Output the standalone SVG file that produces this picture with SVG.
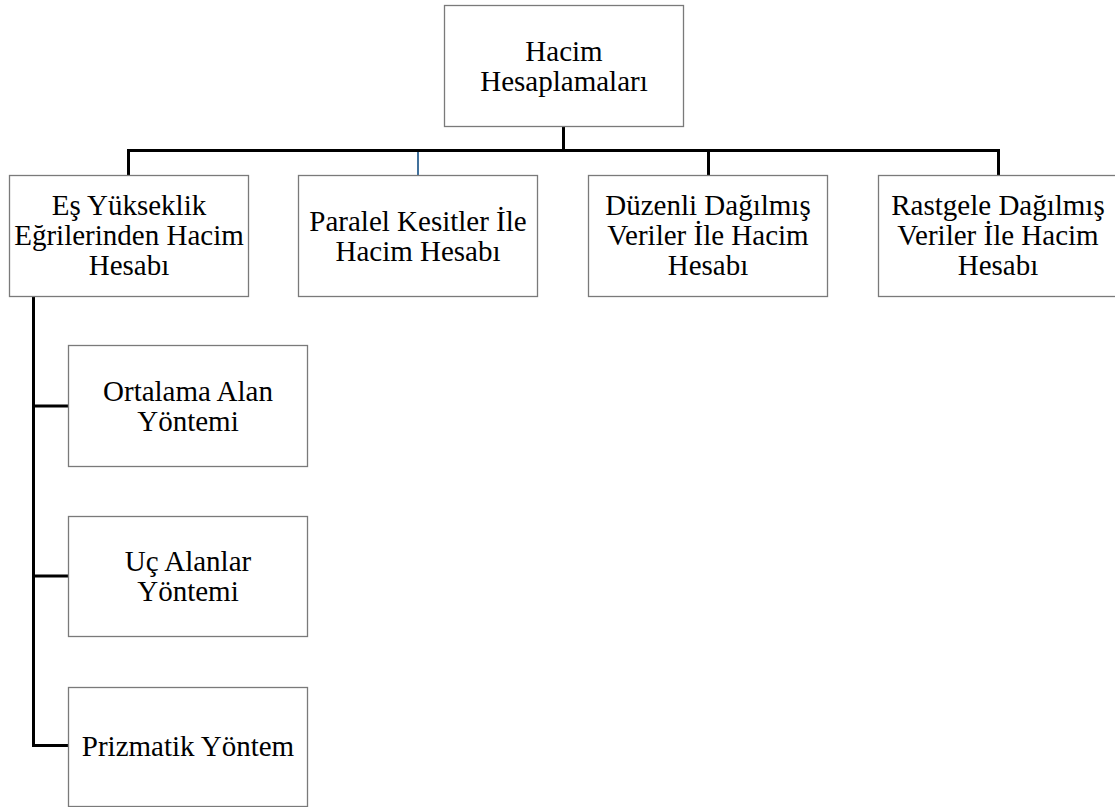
<svg xmlns="http://www.w3.org/2000/svg" width="1115" height="807" viewBox="0 0 1115 807">
  <style>
    .box { fill: #ffffff; stroke: #7a7a7a; stroke-width: 1.3; }
    .lbl { font-family: "Liberation Serif", "Times New Roman", serif; font-size: 29px; fill: #000000; text-anchor: middle; }
    .wire { fill: none; stroke: #000000; stroke-width: 3; stroke-linejoin: miter; }
    .wire-blue { fill: none; stroke: #41719c; stroke-width: 2; }
  </style>
  <rect width="1115" height="807" fill="#ffffff"/>

  <g id="connectors">
    <path class="wire" d="M563.5 126 V150.5"/>
    <path class="wire" d="M128.5 175 V150.5 H998.5 V175"/>
    <path class="wire" d="M708.5 150.5 V175"/>
    <path class="wire-blue" d="M418 152 V175"/>
    <path class="wire" d="M33.5 296 V745.5 H68"/>
    <path class="wire" d="M33.5 406 H68"/>
    <path class="wire" d="M33.5 576 H68"/>
  </g>

  <g id="root">
    <rect class="box" x="444.5" y="5.5" width="239" height="121"/>
    <text class="lbl" x="564" y="60.5">Hacim</text>
    <text class="lbl" x="564" y="90.5">Hesaplamaları</text>
  </g>

  <g id="es-yukseklik">
    <rect class="box" x="9.5" y="175.5" width="239" height="121"/>
    <text class="lbl" x="129" y="215">Eş Yükseklik</text>
    <text class="lbl" x="129" y="245">Eğrilerinden Hacim</text>
    <text class="lbl" x="129" y="275">Hesabı</text>
  </g>

  <g id="paralel-kesitler">
    <rect class="box" x="298.5" y="175.5" width="239" height="121"/>
    <text class="lbl" x="418" y="230.5">Paralel Kesitler İle</text>
    <text class="lbl" x="418" y="260.5">Hacim Hesabı</text>
  </g>

  <g id="duzenli-veriler">
    <rect class="box" x="588.5" y="175.5" width="239" height="121"/>
    <text class="lbl" x="708" y="215">Düzenli Dağılmış</text>
    <text class="lbl" x="708" y="245">Veriler İle Hacim</text>
    <text class="lbl" x="708" y="275">Hesabı</text>
  </g>

  <g id="rastgele-veriler">
    <rect class="box" x="878.5" y="175.5" width="239" height="121"/>
    <text class="lbl" x="998" y="215">Rastgele Dağılmış</text>
    <text class="lbl" x="998" y="245">Veriler İle Hacim</text>
    <text class="lbl" x="998" y="275">Hesabı</text>
  </g>

  <g id="ortalama-alan">
    <rect class="box" x="68.5" y="345.5" width="239" height="121"/>
    <text class="lbl" x="188" y="400.5">Ortalama Alan</text>
    <text class="lbl" x="188" y="430.5">Yöntemi</text>
  </g>

  <g id="uc-alanlar">
    <rect class="box" x="68.5" y="516.5" width="239" height="120"/>
    <text class="lbl" x="188" y="571">Uç Alanlar</text>
    <text class="lbl" x="188" y="601">Yöntemi</text>
  </g>

  <g id="prizmatik">
    <rect class="box" x="68.5" y="687.5" width="239" height="119"/>
    <text class="lbl" x="188" y="755.5">Prizmatik Yöntem</text>
  </g>
</svg>
